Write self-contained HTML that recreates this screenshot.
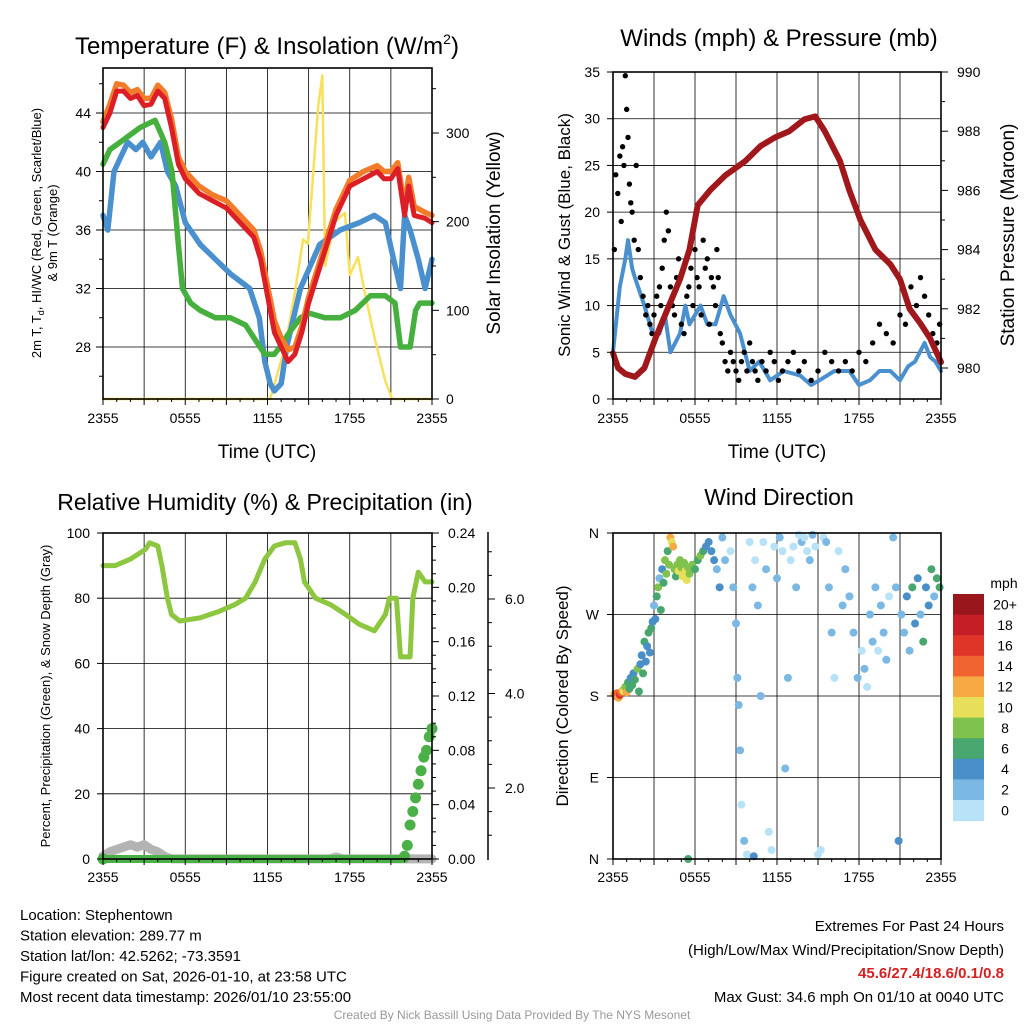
<!DOCTYPE html>
<html><head><meta charset="utf-8"><style>
body{margin:0;background:#fff;}
svg{display:block;font-family:"Liberation Sans",Arial,sans-serif;}
</style></head><body>
<svg id="c" width="1024" height="1024" viewBox="0 0 1024 1024" xmlns="http://www.w3.org/2000/svg"></svg>
<script>
// ---------- DATA ----------
const tempT=[0,0.5,1,1.5,2,2.5,3,3.5,4,4.5,5,5.5,6,7,8,9,10,11,11.5,12,12.5,13,13.5,14,14.5,15,16,17,18,19,20,20.5,21,21.5,22,22.3,22.7,23.5,24];
const tempV=[43,44,45.5,45.5,45,45.2,44.5,44.6,45.5,45,43,40.5,39.5,38.5,38,37.5,36.5,35.5,34,31.5,29,28,27,27.5,29,31,34,37,39,39.5,40,39.5,39.5,40.2,37,39,37,36.8,36.5];
const t9V=[43.4,44.6,46,45.9,45.4,45.6,45,45,45.9,45.4,43.6,41,40,39,38.4,38,37,36,34.6,32.2,29.8,28.6,27.8,28,29.4,31.4,34.4,37.4,39.4,40,40.4,40,40,40.6,37.6,39.6,37.6,37.2,37];
const dewT=[0,0.5,1.24,2.7,3.8,4.5,5.03,5.5,5.8,6.4,7.1,8.2,9.3,10.4,11.1,11.8,12.5,12.9,13.6,14.4,15.1,16.2,17.3,18.4,19.5,20.6,21.3,21.7,22.4,22.8,23.1,24];
const dewV=[40.5,41.5,42,43,43.5,42,40,35,32,31,30.5,30,30,29.5,28.5,27.5,27.5,28,29,30,30.3,30,30,30.5,31.5,31.5,31,28,28,30.5,31,31];
const wcT=[0,0.35,0.8,1.3,1.8,2.4,2.9,3.5,4.2,4.7,5.3,6,7.1,8.2,9.3,10.7,11.4,11.8,12.2,12.5,13,13.4,14.4,15.8,17.3,18.7,19.8,20.6,21.2,21.7,22,22.4,23,23.5,24];
const wcV=[37,36,40,41,42,41.5,42,41,42,40,39,36.5,35,34,33,32,30,27,25.5,25,25.5,28,32,35,36,36.5,37,36.5,34,32,37,36,34,32,34];
const solT=[0,12.2,13.3,14,14.6,14.95,15.7,16,16.2,16.9,17.65,18,18.6,19.1,19.8,20.6,21.1,24];
const solV=[0,0,60,120,180,175,330,365,150,200,210,140,160,120,70,20,0,0];

const windT=[0,0.5,0.9,1.1,1.4,1.6,2.3,2.9,3.4,3.8,4.2,4.9,5.3,5.6,6.4,6.9,7.5,8.1,8.6,9.3,10,10.7,11.5,12.5,13.7,14.5,15.1,16.2,17.3,18,18.8,19.5,20.3,21,21.6,22.1,22.8,23.2,23.6,24];
const windV=[5,12,15,17,14,13,10,7,7,9,5,7,10,8,10,8,8,11,9,7,3,4,2,3,2.5,1.5,2,3,3,1.5,2,3,3,2,3.5,4,6,4.5,4,3];
const gustT=[0.1,0.2,0.35,0.5,0.6,0.7,0.8,0.9,1.0,1.1,1.2,1.3,1.4,1.55,1.7,1.85,2.0,2.2,2.4,2.55,2.7,2.85,3.0,3.2,3.4,3.5,3.6,3.75,3.9,4.05,4.2,4.35,4.5,4.65,4.8,5.0,5.2,5.4,5.55,5.7,5.85,6.0,6.15,6.3,6.45,6.6,6.75,6.9,7.05,7.2,7.35,7.5,7.6,7.7,7.85,8.0,8.2,8.4,8.6,8.8,9.0,9.2,9.4,9.6,9.8,10,10.2,10.4,10.6,10.9,11.2,11.5,11.8,12.1,12.4,12.8,13.2,13.6,14,14.5,15,15.5,16,16.5,17,17.5,18,18.5,19,19.5,20,20.5,21,21.4,21.8,22.2,22.5,22.8,23.1,23.4,23.7,23.9];
const gustV=[16,24,22,26,19,27,25,34.6,31,28,23,21,20,17,25,16,13,11,9,10,8,7,9,11,12,10,14,17,20,18,12,10,9,13,15,8,7,11,12,14,10,16,13,12,9,17,14,15,8,13,12,10,16,13,7,6,4,3,5,4,3,2,4,5,3,6,4,3,2,4,3,5,4,2,3,4,5,3,4,2,3,5,4,3,4,3,5,4,6,8,7,6,9,8,12,10,13,11,9,7,6,8];
const presT=[0,0.37,0.9,1.6,2.3,3.1,4.0,4.9,5.6,6.2,7.1,8.2,9.7,10.8,11.9,12.9,14,14.8,15.5,16.6,17.3,18.1,19.2,20.3,21,21.7,22.5,23.2,24];
const presV=[980.5,980,979.8,979.7,980,981,982,983,984,985.5,986,986.5,987,987.5,987.8,988,988.4,988.5,988,987,986,985,984,983.5,983,982,981.5,981,980.2];

const rhT=[0,0.9,2,3.1,3.4,4,4.3,4.7,5,5.6,7.1,8.5,9.6,10.4,11.1,11.8,12.5,13.3,14,14.4,14.7,15.5,16.6,17.7,18.7,19.8,20.6,20.9,21.4,21.7,22.4,22.6,23,23.5,24];
const rhV=[90,90,92,95,97,96,90,80,75,73,74,76,78,80,85,92,96,97,97,92,85,80,78,75,72,70,75,80,80,62,62,80,88,85,85];
const prT=[0,22,22.2,22.4,22.6,22.8,23,23.2,23.4,23.6,23.8,24];
const prV=[0,0.002,0.01,0.025,0.035,0.045,0.055,0.065,0.075,0.08,0.09,0.096];
const snT=[0,0.5,1,1.5,2,2.5,3,3.5,4,4.5,5,16.5,17,17.5,22,24];
const snV=[0.56,0.65,0.7,0.75,0.8,0.75,0.8,0.7,0.65,0.55,0.5,0.5,0.54,0.5,0.5,0.5];

const dirT=[0.1,0.2,0.3,0.4,0.5,0.6,0.7,0.8,0.9,1.0,1.1,1.2,1.3,1.4,1.5,1.6,1.8,1.9,2.0,2.1,2.2,2.3,2.4,2.5,2.6,2.7,2.8,2.9,3.0,3.1,3.2,3.3,3.4,3.5,3.6,3.7,3.8,3.9,4.0,4.1,4.2,4.3,4.4,4.5,4.6,4.7,4.8,4.9,5.0,5.1,5.2,5.3,5.4,5.5,5.6,5.8,6.0,6.2,6.4,6.6,6.8,7.0,7.2,7.4,7.6,7.8,8.0,8.2,8.6,8.8,9.0,9.1,9.2,9.3,9.4,9.6,9.8,10.0,10.2,10.4,10.6,10.8,11.0,11.2,11.4,11.6,11.8,12.0,12.2,12.4,12.6,12.8,13.0,13.2,13.4,13.6,13.8,14.0,14.2,14.4,14.6,14.8,15.0,15.2,15.4,15.6,15.8,16.0,16.2,16.5,16.8,17.0,17.3,17.6,17.9,18.2,18.4,18.6,18.8,19.0,19.2,19.4,19.6,19.8,20.0,20.2,20.5,20.7,20.9,21.1,21.3,21.5,21.7,21.9,22.1,22.3,22.5,22.7,22.9,23.1,23.3,23.5,23.7,23.9,5.5,10.3];
const dirD=[182,180,183,178,181,184,186,185,190,184,195,188,200,192,205,198,210,185,215,225,205,240,218,235,250,228,255,262,280,265,290,300,310,275,320,305,330,315,340,325,355,350,345,320,312,325,318,330,322,312,327,318,308,322,315,325,320,330,335,340,345,350,340,330,320,300,355,330,340,300,260,200,170,120,60,20,5,350,300,330,280,180,350,320,30,10,345,310,355,340,100,200,330,345,300,358,350,355,340,330,358,345,5,10,355,350,300,250,200,340,280,320,290,250,200,230,210,190,270,240,300,230,280,250,220,290,355,300,20,270,250,290,230,300,260,310,270,240,300,280,320,290,310,300,0,3];
const dirS=[13,14,15,12,16,14,12,10,8,13,6,7,5,7,4,6,8,6,4,5,7,6,4,5,7,4,6,5,3,4,6,8,3,6,5,7,8,9,6,8,12,11,13,8,7,9,10,8,9,10,8,10,10,8,9,8,7,6,8,6,5,4,5,4,3,4,3,3,1,2,2,3,2,3,1,2,1,1,2,1,2,3,1,2,1,1,1,2,2,1,2,3,1,1,2,1,2,1,1,2,2,1,1,1,1,2,3,2,1,1,2,2,2,3,2,1,2,1,2,3,2,1,2,3,2,1,2,3,4,3,2,4,3,6,4,5,3,6,4,5,6,3,7,6,6,4];
const binLabels=["0","2","4","6","8","10","12","14","16","18","20+"];
const binColors=["#b8e2f7","#7bb9e4","#4a8fc7","#48a76f","#7fc24d","#e7df5a","#f7a944","#ef6430","#df3428","#c41e27","#98161c"];

// ---------- HELPERS ----------
const NS="http://www.w3.org/2000/svg";
const svg=document.getElementById('c');
function el(tag,attrs,parent,text){const e=document.createElementNS(NS,tag);for(const k in attrs)e.setAttribute(k,attrs[k]);if(text!==undefined)e.textContent=text;(parent||svg).appendChild(e);return e;}
function txt(x,y,s,size,anchor,name,extra){const t=el('text',Object.assign({x:x,y:y,'font-size':size,'text-anchor':anchor||'middle',fill:'#000'},extra||{}),svg,s);return t;}
function lin(d0,d1,r0,r1){return v=>r0+(v-d0)/(d1-d0)*(r1-r0);}
function path(xs,ys,xf,yf,attrs,name){let d='';for(let i=0;i<xs.length;i++)d+=(i?'L':'M')+xf(xs[i]).toFixed(1)+','+yf(ys[i]).toFixed(1);const p=el('path',Object.assign({d:d,fill:'none','stroke-linejoin':'round','stroke-linecap':'round'},attrs));return p;}
function line(x1,y1,x2,y2,w,c){return el('line',{x1:x1,y1:y1,x2:x2,y2:y2,stroke:c||'#000','stroke-width':w||1});}
function frame(L,T,R,B,xf,name,hGrid,yf){
  const g=el('g',{});
  for(let h=3;h<24;h+=3){el('line',{x1:xf(h),y1:T,x2:xf(h),y2:B,stroke:'#000','stroke-width':0.8},g);}
  hGrid.forEach(v=>el('line',{x1:L,y1:yf(v),x2:R,y2:yf(v),stroke:'#000','stroke-width':0.8},g));
  return g;
}
function box(L,T,R,B,name){const r=el('rect',{x:L,y:T,width:R-L,height:B-T,fill:'none',stroke:'#000','stroke-width':1.6});}
function xTicks(L,R,B,xf,ly){const labs=['2355','0555','1155','1755','2355'];
  for(let h=0;h<=24;h+=1){const len=(h%3===0)?6:3;line(xf(h),B,xf(h),B+len,1);}
  labs.forEach((s,i)=>txt(xf(i*6),ly,s,14,'middle','x-tick-label'));}

// ---------- PANEL 1: TEMPERATURE ----------
{
const L=103,T=68,R=432,B=399;
const x=lin(0,24,L,R), y=lin(28,44,347,113), ys=lin(0,300,399,133);
frame(L,T,R,B,x,'temp-grid',[28,32,36,40,44],y);
path(solT,solV,x,ys,{stroke:'#f9e05a','stroke-width':2.5},'solar-line');
path(wcT,wcV,x,y,{stroke:'#4a90cf','stroke-width':5.5},'windchill-line');
path(dewT,dewV,x,y,{stroke:'#45b03d','stroke-width':5.5},'dewpoint-line');
path(tempT,t9V,x,y,{stroke:'#f27c2a','stroke-width':5.5},'temp-9m-line');
path(tempT,tempV,x,y,{stroke:'#dc1f26','stroke-width':5},'temp-2m-line');
box(L,T,R,B,'temp-plot-frame');
for(let v=26;v<=46;v+=2){line(L-(v%4===0?7:4),y(v),L,y(v),1);}
[28,32,36,40,44].forEach(v=>txt(L-12,y(v)+5,String(v),14,'end','temp-y-tick'));
for(let v=0;v<=350;v+=50){line(R,ys(v),R+(v%100===0?7:4),ys(v),1);}
[0,100,200,300].forEach(v=>txt(R+14,ys(v)+5,String(v),14,'start','solar-y-tick'));
xTicks(L,R,B,x,423);
const tt=txt(267,54,'',24,'middle','temp-title');
el('tspan',{},tt,'Temperature (F) & Insolation (W/m');el('tspan',{dy:-10,'font-size':14},tt,'2');el('tspan',{dy:10},tt,')');
txt(267,458,'Time (UTC)',19,'middle','temp-x-title');
const yt=txt(0,0,'',13,'middle','temp-y-title',{transform:'translate(41,233) rotate(-90)'});
el('tspan',{},yt,'2m T, T');el('tspan',{'font-size':9,dy:3},yt,'d');el('tspan',{dy:-3},yt,', HI/WC (Red, Green, Scarlet/Blue)');
txt(0,0,'& 9m T (Orange)',13,'middle','temp-y-title-line2',{transform:'translate(57,233) rotate(-90)'});
txt(0,0,'Solar Insolation (Yellow)',19,'middle','solar-y-title',{transform:'translate(500,233) rotate(-90)'});
}

// ---------- PANEL 2: WIND & PRESSURE ----------
{
const L=613,T=72,R=941,B=399;
const x=lin(0,24,L,R), y=lin(0,35,399,72), yp=lin(980,990,368,72);
frame(L,T,R,B,x,'wind-grid',[5,10,15,20,25,30],y);
path(windT,windV,x,y,{stroke:'#4a90cf','stroke-width':4},'wind-speed-line');
const gg=el('g',{});
for(let i=0;i<gustT.length;i++){const c=el('circle',{cx:x(gustT[i]),cy:y(gustV[i]),r:2.7,fill:'#000'},gg);}
path(presT,presV,x,yp,{stroke:'#a0181b','stroke-width':6},'pressure-line');
box(L,T,R,B,'wind-plot-frame');
for(let v=0;v<=35;v+=5){line(L-6,y(v),L,y(v),1);txt(L-13,y(v)+5,String(v),14,'end','wind-y-tick');}
for(let v=980;v<=990;v+=1){line(R,yp(v),R+(v%2===0?7:4),yp(v),1);}
for(let v=980;v<=990;v+=2)txt(R+16,yp(v)+5,String(v),14,'start','pressure-y-tick');
xTicks(L,R,B,x,423);
txt(779,46,'Winds (mph) & Pressure (mb)',24,'middle','wind-title');
txt(777,458,'Time (UTC)',19,'middle','wind-x-title');
txt(0,0,'Sonic Wind & Gust (Blue, Black)',17,'middle','wind-y-title',{transform:'translate(570,235) rotate(-90)'});
txt(0,0,'Station Pressure (Maroon)',19,'middle','pressure-y-title',{transform:'translate(1014,235) rotate(-90)'});
}

// ---------- PANEL 3: RH & PRECIP ----------
{
const L=103,T=533,R=432,B=859;
const x=lin(0,24,L,R), y=lin(0,100,859,533), yp=lin(0,0.24,859,533), ys=lin(2,6,788,599);
frame(L,T,R,B,x,'rh-grid',[20,40,60,80],y);
path(snT,snV,x,ys,{stroke:'#b3b3b3','stroke-width':9},'snow-depth-line');
path(rhT,rhV,x,y,{stroke:'#8dc63f','stroke-width':5},'rh-line');
path([0,22],[0,0],x,yp,{stroke:'#4cb048','stroke-width':8},'precip-zero-line');
const pg=el('g',{});
for(let i=0;i<prT.length;i++){const c=el('circle',{cx:x(prT[i]),cy:yp(prV[i]),r:5.5,fill:'#4cb048'},pg);}
box(L,T,R,B,'rh-plot-frame');
for(let v=0;v<=100;v+=20){line(L-6,y(v),L,y(v),1);txt(L-13,y(v)+5,String(v),14,'end','rh-y-tick');}
for(let v=0;v<=0.24001;v+=0.01){const mj=Math.round(v*100)%4===0;line(R,yp(v),R+(mj?7:4),yp(v),1);}
for(let v=0;v<=0.24001;v+=0.04)txt(R+16,yp(v)+5,v.toFixed(2),14,'start','precip-y-tick');
line(488,532,488,860,1.5);
for(let v=1;v<=7;v+=0.5){const yy=ys(v);if(yy>=533&&yy<=860)line(488,yy,(v%2===0)?495:492,yy,1);}
[2,4,6].forEach(v=>txt(505,ys(v)+5,v.toFixed(1),14,'start','snow-y-tick'));
xTicks(L,R,B,x,882);
txt(265,510,'Relative Humidity (%) & Precipitation (in)',23,'middle','rh-title');
txt(0,0,'Percent, Precipitation (Green), & Snow Depth (Gray)',13,'middle','rh-y-title',{transform:'translate(50,696) rotate(-90)'});
}

// ---------- PANEL 4: WIND DIRECTION ----------
{
const L=613,T=533,R=941,B=859;
const x=lin(0,24,L,R), y=lin(0,360,859,533);
frame(L,T,R,B,x,'dir-grid',[90,180,270],y);
const dg=el('g',{});
for(let i=0;i<dirT.length;i++){const b=Math.min(10,Math.floor(dirS[i]/2));const c=el('circle',{cx:x(dirT[i]),cy:y(dirD[i]),r:4,fill:binColors[b]},dg);}
box(L,T,R,B,'dir-plot-frame');
['N','E','S','W','N'].forEach((s,i)=>{line(L-6,y(i*90),L,y(i*90),1);txt(L-14,y(i*90)+5,s,14,'end','dir-y-tick');});
xTicks(L,R,B,x,882);
txt(779,505,'Wind Direction',23,'middle','dir-title');
txt(0,0,'Direction (Colored By Speed)',17,'middle','dir-y-title',{transform:'translate(568,696) rotate(-90)'});
const cg=el('g',{});
const cbTop=594,cbH=20.6;
for(let i=0;i<binColors.length;i++){const k=binColors.length-1-i;const r=el('rect',{x:953,y:cbTop+i*cbH,width:31,height:cbH+0.5,fill:binColors[k]},cg);
txt(1005,cbTop+i*cbH+cbH/2+5,binLabels[k],14,'middle','colorbar-label');}
txt(1004,588,'mph',14,'middle','colorbar-title');
}

// ---------- FOOTER ----------
const info=['Location: Stephentown','Station elevation: 289.77 m','Station lat/lon: 42.5262; -73.3591','Figure created on Sat, 2026-01-10, at 23:58 UTC','Most recent data timestamp: 2026/01/10 23:55:00'];
info.forEach((s,i)=>txt(20,920+i*20.5,s,15,'start','station-info-line'));
txt(1004,931,'Extremes For Past 24 Hours',15,'end','extremes-title');
txt(1004,955,'(High/Low/Max Wind/Precipitation/Snow Depth)',15,'end','extremes-subtitle');
txt(1004,978,'45.6/27.4/18.6/0.1/0.8',15,'end','extremes-values',{fill:'#d42020','font-weight':'bold'});
txt(1004,1002,'Max Gust: 34.6 mph On 01/10 at 0040 UTC',15,'end','max-gust');
txt(512,1019,'Created By Nick Bassill Using Data Provided By The NYS Mesonet',12,'middle','credits',{fill:'#999'});
</script>
</body></html>
